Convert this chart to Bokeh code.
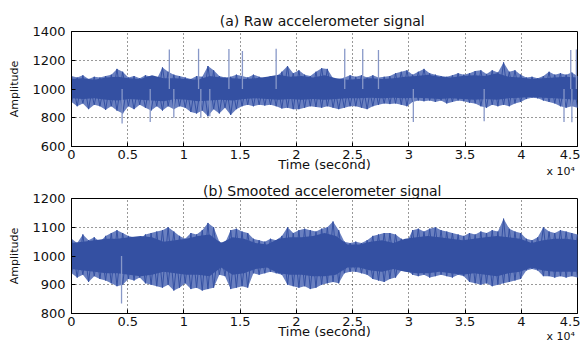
import numpy as np
from bokeh.plotting import figure
from bokeh.layouts import column
from bokeh.models import Range1d, FixedTicker, Title, LinearAxis
from bokeh.embed import file_html
from bokeh.resources import INLINE

# ---------------- data ----------------
x_ticks = [0, 5000, 10000, 15000, 20000, 25000, 30000, 35000, 40000, 45000]
x_tick_labels = ["0", "0.5", "1", "1.5", "2", "2.5", "3", "3.5", "4", "4.5"]
x_exponent = "x 10\u2074"
raw_y_ticks = [600, 800, 1000, 1200, 1400]
smooth_y_ticks = [800, 900, 1000, 1100, 1200]

# (a) raw signal: outer envelope every 500 s
raw_hi = [1090, 1080, 1095, 1070, 1085, 1080, 1090, 1100, 1140, 1120,
          1080, 1090, 1075, 1095, 1085, 1070, 1150, 1120, 1100, 1090,
          1080, 1070, 1090, 1085, 1160, 1130, 1090, 1080, 1085, 1100,
          1090, 1080, 1100, 1085, 1070, 1090, 1085, 1120, 1160, 1110,
          1130, 1100, 1090, 1120, 1145, 1140, 1075, 1070, 1080, 1095,
          1085, 1095, 1080, 1095, 1080, 1085, 1090, 1110, 1120, 1130,
          1100, 1120, 1140, 1110, 1100, 1090, 1085, 1095, 1110, 1100,
          1110, 1125, 1130, 1105, 1130, 1115, 1185, 1120, 1130, 1100,
          1080, 1085, 1075, 1090, 1120, 1100, 1110, 1100, 1115, 1090]
raw_lo = [910, 880, 900, 860, 890, 880, 855, 880, 850, 830,
          880, 860, 890, 870, 850, 880, 850, 880, 860, 880,
          870, 840, 830, 850, 810, 860, 830, 870, 820, 860,
          880, 890, 880, 890, 885, 890, 880, 865, 870, 860,
          860, 870, 880, 875, 870, 880, 870, 860, 870, 880,
          880, 870, 860, 880, 890, 900, 895, 900, 890, 880,
          910, 920, 915, 920, 910, 920, 900, 910, 920, 915,
          905, 900, 880, 870, 890, 880, 890, 880, 900, 910,
          930, 940, 935, 920, 910, 900, 880, 870, 880, 870]
# (a) raw signal: dense core every 1000 s
raw_core_hi = [1070, 1075, 1065, 1080, 1085, 1075, 1070, 1095, 1075, 1075,
               1070, 1065, 1090, 1080, 1075, 1070, 1075, 1085, 1100, 1085,
               1090, 1080, 1095, 1075, 1065, 1070, 1075, 1070, 1075, 1085,
               1090, 1100, 1085, 1080, 1090, 1095, 1090, 1110, 1085, 1080,
               1070, 1075, 1080, 1085, 1080]
raw_core_lo = [935, 930, 935, 925, 920, 930, 925, 920, 915, 930,
               925, 915, 920, 925, 920, 930, 935, 930, 925, 930,
               925, 930, 925, 930, 935, 935, 940, 935, 940, 935,
               940, 935, 930, 935, 930, 925, 930, 925, 935, 940,
               945, 940, 935, 930, 925]
# (a) isolated spikes (time, amplitude)
raw_spike_t = [8700, 11300, 14000, 15200, 18200, 24300, 25900, 27300, 44400, 44900,
               4500, 7000, 9100, 11500, 12300, 30400, 36700, 43800, 44500]
raw_spike_v = [1275, 1280, 1278, 1265, 1280, 1280, 1278, 1272, 1272, 1275,
               760, 770, 800, 800, 810, 770, 775, 770, 768]

# (b) smoothed signal: outer envelope every 500 s
sm_hi = [1060, 1045, 1075, 1055, 1065, 1050, 1070, 1080, 1090, 1080,
         1070, 1065, 1060, 1075, 1080, 1085, 1090, 1100, 1085, 1070,
         1060, 1080, 1075, 1090, 1115, 1100, 1050, 1045, 1090, 1095,
         1085, 1080, 1060, 1055, 1050, 1060, 1055, 1070, 1100, 1080,
         1090, 1095, 1090, 1085, 1095, 1100, 1120, 1090, 1050, 1045,
         1050, 1045, 1055, 1070, 1075, 1080, 1080, 1075, 1060, 1050,
         1090, 1095, 1085, 1095, 1100, 1090, 1085, 1080, 1075, 1070,
         1080, 1075, 1085, 1080, 1090, 1085, 1130, 1095, 1085, 1080,
         1060, 1055, 1065, 1100, 1085, 1080, 1090, 1085, 1080, 1075]
sm_lo = [940, 925, 935, 910, 930, 920, 915, 905, 895, 900,
         920, 915, 925, 905, 900, 895, 890, 900, 880, 890,
         905, 885, 890, 880, 885, 890, 935, 930, 885, 890,
         895, 890, 940, 935, 940, 945, 940, 935, 900, 895,
         890, 895, 885, 890, 900, 905, 910, 905, 940, 945,
         945, 940, 935, 920, 915, 910, 920, 925, 950, 950,
         935, 930, 935, 925, 930, 935, 930, 925, 935, 930,
         910, 905, 900, 905, 895, 900, 905, 910, 915, 920,
         950, 955, 950, 930, 930, 925, 930, 925, 930, 925]
sm_core_hi = [1045, 1050, 1055, 1060, 1060, 1065, 1070, 1065, 1050, 1055,
              1060, 1070, 1075, 1045, 1065, 1060, 1045, 1040, 1060, 1065,
              1065, 1070, 1080, 1070, 1040, 1040, 1050, 1055, 1045, 1060,
              1065, 1070, 1065, 1060, 1055, 1060, 1065, 1070, 1065, 1060,
              1045, 1055, 1060, 1060, 1055]
sm_core_lo = [955, 950, 945, 940, 940, 935, 930, 935, 945, 940,
              935, 935, 930, 960, 935, 940, 955, 960, 940, 935,
              935, 930, 930, 935, 960, 960, 950, 945, 955, 945,
              940, 940, 945, 940, 935, 940, 935, 930, 940, 945,
              960, 950, 945, 945, 945]
sm_spike_t = [4450]
sm_spike_v = [835]

# ---------------- styling ----------------
FONT = "DejaVu Sans"
TXT = "#111111"
DARK = "#3450a2"
EDGE = "#6a80c0"
LIGHT = "#8898c8"
W = 580


def make_panel(height, top, bottom, yr, yticks, hi, lo, chi, clo, st, sv,
               title, title_standoff, exp_standoff):
    p = figure(width=W, height=height, output_backend="svg", toolbar_location=None,
               x_range=Range1d(0, 45000), y_range=Range1d(*yr),
               min_border_left=71, min_border_right=3,
               min_border_top=top, min_border_bottom=bottom)
    p.title = Title(text=title, align="center", text_font=FONT, text_font_size="14px",
                    text_font_style="normal", text_color=TXT, standoff=title_standoff)
    t_env = np.linspace(0, 45000, len(hi))
    t_core = np.linspace(0, 45000, len(chi))
    hi_a, lo_a = np.asarray(hi), np.asarray(lo)
    even = np.arange(len(hi)) % 2 == 0
    zig1 = np.where(even, hi_a, lo_a)
    zig2 = np.where(even, lo_a, hi_a)
    p.varea(x=t_env, y1=lo, y2=hi, fill_color=EDGE, fill_alpha=1.0)
    p.line(x=t_env, y=zig1, line_color=DARK, line_width=1.0)
    p.line(x=t_env, y=zig2, line_color=DARK, line_width=1.0)
    p.varea(x=t_core, y1=clo, y2=chi, fill_color=DARK, fill_alpha=1.0)
    p.segment(x0=st, y0=[1000] * len(st), x1=st, y1=sv, line_color=LIGHT, line_width=1.3)

    p.xaxis.ticker = FixedTicker(ticks=x_ticks)
    p.xaxis.major_label_overrides = {t: l for t, l in zip(x_ticks, x_tick_labels)}
    p.yaxis.ticker = FixedTicker(ticks=yticks)
    p.yaxis.axis_label = "Amplitude"
    p.xaxis.axis_label = "Time (second)"
    for ax in (p.xaxis[0], p.yaxis[0]):
        ax.major_tick_in = 4
        ax.major_tick_out = 0
        ax.minor_tick_in = 0
        ax.minor_tick_out = 0
        ax.axis_line_color = "black"
        ax.major_tick_line_color = "black"
        ax.major_label_text_font = FONT
        ax.major_label_text_font_size = "13px"
        ax.major_label_text_color = TXT
        ax.axis_label_text_font = FONT
        ax.axis_label_text_font_style = "normal"
        ax.axis_label_text_color = TXT
    p.xaxis.major_label_standoff = 3
    p.xaxis.axis_label_standoff = -5
    p.xaxis.axis_label_text_font_size = "13px"
    p.yaxis.major_label_standoff = 6
    p.yaxis.axis_label_standoff = 8
    p.yaxis.axis_label_text_font_size = "11px"
    p.grid.grid_line_color = "black"
    p.grid.grid_line_alpha = 0.8
    p.grid.grid_line_dash = "1 3"
    p.outline_line_color = "black"
    p.outline_line_alpha = 1.0

    # the "x 10^4" multiplier below the right end of the time axis
    ex = LinearAxis(ticker=FixedTicker(ticks=[43500]),
                    major_label_overrides={43500: x_exponent},
                    axis_line_color=None, major_tick_line_color=None,
                    minor_tick_line_color=None, major_tick_in=0, major_tick_out=0,
                    major_label_standoff=exp_standoff,
                    major_label_text_font=FONT, major_label_text_font_size="11px",
                    major_label_text_color=TXT)
    p.add_layout(ex, "below")
    return p


top = make_panel(180, 31, 34, (600, 1400), raw_y_ticks, raw_hi, raw_lo,
                 raw_core_hi, raw_core_lo, raw_spike_t, raw_spike_v,
                 "(a)  Raw accelerometer signal", 5, -10)

bot = make_panel(165, 16, 32, (800, 1200), smooth_y_ticks, sm_hi, sm_lo,
                 sm_core_hi, sm_core_lo, sm_spike_t, sm_spike_v,
                 "(b)  Smooted accelerometer signal", 0, -12)

layout = column(top, bot)
open("out.html", "w").write(file_html(layout, INLINE))
